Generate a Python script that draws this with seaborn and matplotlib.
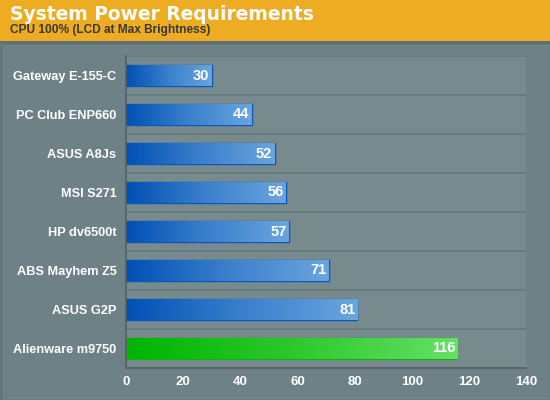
import numpy as np
import pandas as pd
import seaborn as sns
import matplotlib
matplotlib.use('agg')
import matplotlib.pyplot as plt
from matplotlib.colors import LinearSegmentedColormap
from matplotlib.patches import Rectangle

systems = ['Gateway E-155-C', 'PC Club ENP660', 'ASUS A8Js', 'MSI S271',
           'HP dv6500t', 'ABS Mayhem Z5', 'ASUS G2P', 'Alienware m9750']
watts = [30, 44, 52, 56, 57, 71, 81, 116]
highlight = 'Alienware m9750'
x_ticks = [0, 20, 40, 60, 80, 100, 120, 140]

BG = '#6d8187'
PLOT_BG = '#778a8d'
HEADER = '#eeac22'

sns.set_theme(style='white')
plt.rcParams['font.family'] = ['Liberation Sans', 'DejaVu Sans']

df = pd.DataFrame({'system': systems, 'watts': watts})

fig = plt.figure(figsize=(5.5, 4.0), dpi=100, facecolor=BG)
ax = fig.add_axes([126 / 550, 1 - 368 / 400, 400 / 550, 312 / 400])
ax.set_facecolor(PLOT_BG)

sns.barplot(data=df, x='watts', y='system', orient='h', width=0.52,
            color='#1560c0', edgecolor='#0a55c0', linewidth=1, ax=ax)

blue = LinearSegmentedColormap.from_list('b', ['#0050b4', '#3a80cc', '#6aa5de'])
green = LinearSegmentedColormap.from_list('g', ['#00b400', '#2cc82c', '#66e066'])
grad = np.linspace(0, 1, 256).reshape(1, -1)

for patch, name, val in zip(ax.patches, systems, watts):
    x0, y0 = patch.get_x(), patch.get_y()
    w, h = patch.get_width(), patch.get_height()
    is_hi = name == highlight
    cmap = green if is_hi else blue
    patch.set_edgecolor('#10b010' if is_hi else '#0a55c0')
    img = ax.imshow(grad, cmap=cmap, aspect='auto', extent=[x0, x0 + w, y0 + h, y0],
                    zorder=patch.get_zorder() + 0.1)
    img.set_clip_path(patch)
    ax.text(x0 + w - 0.8, y0 + h / 2, str(val), ha='right', va='center',
            color='white', fontsize=10.5, fontweight='bold', zorder=5)

ax.set_xlim(0, 140)
ax.set_ylim(len(systems) - 0.5, -0.5)
ax.set_xticks(x_ticks)
ax.set_xticklabels([str(t) for t in x_ticks])
ax.set_yticks(np.arange(len(systems) + 1) - 0.5, minor=True)
ax.yaxis.grid(True, which='minor', color='#65777b', linewidth=1.2)
ax.set_axisbelow(True)
ax.tick_params(axis='y', which='major', length=0, pad=7, labelsize=9.2, labelcolor='white')
ax.tick_params(axis='y', which='minor', length=4, color='#555f62', width=1)
ax.tick_params(axis='x', length=4, color='#555f62', width=1, labelsize=9.5, labelcolor='white', pad=2)
for lbl in ax.get_xticklabels() + ax.get_yticklabels():
    lbl.set_fontweight('bold')
ax.set_xlabel('')
ax.set_ylabel('')
for side in ['top', 'right']:
    ax.spines[side].set_visible(False)
for side in ['left', 'bottom']:
    ax.spines[side].set_color('#555f62')
    ax.spines[side].set_linewidth(1.2)

# header band and frame
fig.patches.append(Rectangle((0, 1 - 42 / 400), 1, 42 / 400, transform=fig.transFigure,
                             facecolor=HEADER, edgecolor='none', zorder=0))
fig.patches.append(Rectangle((0, 1 - 43 / 400), 1, 1.5 / 400, transform=fig.transFigure,
                             facecolor='#5f7177', edgecolor='none', zorder=0))
fig.patches.append(Rectangle((0.5 / 550, 0.5 / 400), 549 / 550, (400 - 43) / 400,
                             transform=fig.transFigure, facecolor='none',
                             edgecolor='#5c6b70', linewidth=1, zorder=0))
fig.text(10 / 550, 1 - 20 / 400, 'System Power Requirements', color='white',
         fontsize=13.4, fontweight='bold', family=['DejaVu Sans'], va='baseline')
fig.text(10 / 550, 1 - 33 / 400, 'CPU 100% (LCD at Max Brightness)', color='#383838',
         fontsize=8.6, fontweight='bold', va='baseline')

fig.savefig('out.png', dpi=100, facecolor=BG)
